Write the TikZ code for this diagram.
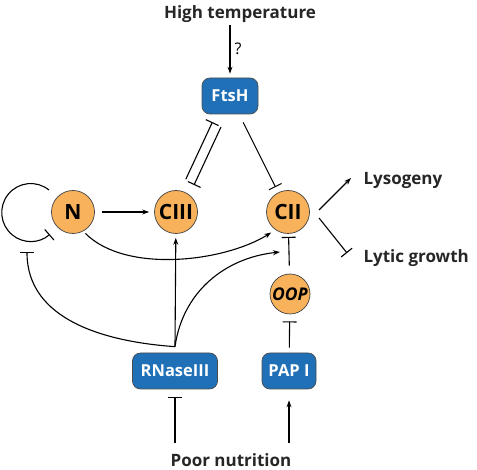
\documentclass[tikz,border=0pt]{standalone}
\usepackage{fontspec}
\setmainfont{Open Sans}
\usetikzlibrary{arrows.meta}
\definecolor{geneorange}{RGB}{248,178,92}
\definecolor{enzblue}{RGB}{32,112,184}
\begin{document}
\begin{tikzpicture}[x=1pt, y=-1pt, >={Stealth[length=7pt, width=5pt]}, line width=1.1pt, line join=round,
		gene/.style={circle, draw=black!75, line width=0.7pt, fill=geneorange, minimum size=43pt, inner sep=0pt, font=\bfseries\fontsize{21}{21}\selectfont},
		enzyme/.style={rectangle, rounded corners=8pt, draw=black!70, line width=0.7pt, fill=enzblue, text=white, minimum height=36pt, inner sep=0pt, font=\bfseries\fontsize{16.5}{16.5}\selectfont},
		cue/.style={inner sep=2pt, text=black!85, font=\bfseries\fontsize{17}{17}\selectfont},
		inh/.style={-{Bar[width=14pt]}}]
	\useasboundingbox (0,0) rectangle (477,470);
	% nodes
	\node[cue, anchor=base] (heat) at (240,18.5) {High temperature};
	\node[enzyme, minimum width=56pt] (ftsh) at (230,96) {FtsH};
	\node[gene] (n) at (73,212) {N};
	\node[gene] (ciii) at (176,212) {CIII};
	\node[gene] (cii) at (288,212) {CII};
	\node[gene, minimum size=40pt, font=\bfseries\itshape\fontsize{17.5}{17.5}\selectfont] (oop) at (290,294) {OOP};
	\node[enzyme, minimum width=85pt] (rnase) at (175,371) {RNaseIII};
	\node[enzyme, minimum width=54pt] (pap) at (289,371) {PAP I};
	\node[cue, anchor=base] (food) at (231,467) {Poor nutrition};
	\node[cue, anchor=base west] (lyso) at (361,185) {Lysogeny};
	\node[cue, anchor=base west] (lytic) at (361,263) {Lytic growth};
	\coordinate (fork) at ([yshift=6pt]rnase.north);
	% connectors
	\draw[->, shorten >=4pt] (heat.south -| ftsh.north) -- node[pos=0.45, right, inner sep=4pt, font=\fontsize{16}{16}\selectfont] {?} (ftsh.north);
	\draw[inh, shorten <=34pt, shorten >=31pt] ([shift={(-4.5,-2)}]ciii.center) -- ([shift={(-4.5,-2)}]ftsh.center);
	\draw[inh, shorten <=32pt, shorten >=32pt] ([shift={(4.5,2)}]ftsh.center) -- ([shift={(4.5,2)}]ciii.center);
	\draw[inh, shorten <=9pt, shorten >=6pt] (ftsh) -- (cii);
	\draw[->] ([shift={(31,-2)}]cii.center) -- ([shift={(-10,-7)}]lyso.base west);
	\draw[inh] ([shift={(31,6)}]cii.center) -- ([shift={(-14,-10)}]lytic.base west);
	\draw[->, shorten <=7pt, shorten >=5pt] (n) -- (ciii);
	\draw[inh] ([shift={(-24,-22)}]n.center) arc[start angle=51, end angle=311, radius=29pt];
	\draw[->, shorten <=3pt, shorten >=5pt] (n.-62) to[out=-45, in=212, looseness=0.8] (cii.235);
	\draw[inh] (fork) to[out=176, in=-90] ([shift={(-46,40)}]n.center);
	\draw[->, shorten >=4pt] (fork) -- (ciii);
	\draw[->] (fork) to[out=82, in=186] ([shift={(-8,40)}]cii.center);
	\draw[inh, shorten <=8pt, shorten >=3pt] (oop) -- (cii);
	\draw[inh, shorten <=5pt, shorten >=7pt] (pap) -- (oop);
	\draw[->, shorten <=9pt, shorten >=11pt] (food.north -| pap.south) -- (pap.south);
	\draw[inh, shorten <=9pt, shorten >=8pt] (food.north -| rnase.south) -- (rnase.south);
\end{tikzpicture}
\end{document}
